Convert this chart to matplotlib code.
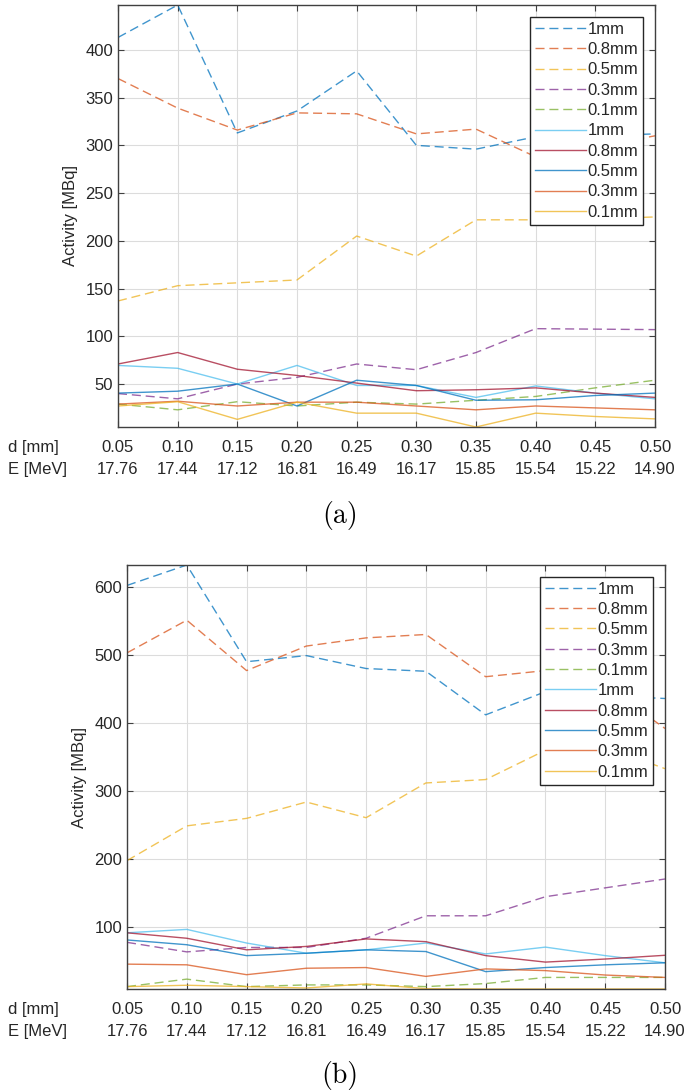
#!/usr/bin/env python3
"""Activity vs. foil thickness / beam energy, panels (a) and (b)."""

import matplotlib
import numpy as np

matplotlib.use("Agg")
import matplotlib.pyplot as plt

plt.rcParams["font.family"] = ["Liberation Sans", "DejaVu Sans"]

DEPTH_MM = [0.05, 0.10, 0.15, 0.20, 0.25, 0.30, 0.35, 0.40, 0.45, 0.50]
ENERGY_MEV = [17.76, 17.44, 17.12, 16.81, 16.49, 16.17, 15.85, 15.54, 15.22, 14.90]
LABELS = ["1mm", "0.8mm", "0.5mm", "0.3mm", "0.1mm"]

# panel (a): dashed series, then solid series (same label order)
A_DASHED = [
    [413, 447, 313, 336, 378, 300, 296, 309, 310, 312],
    [370, 339, 316, 334, 333, 312, 317, 288, 298, 310],
    [137, 153, 156, 159, 205, 184, 222, 222, 223, 225],
    [40, 34.5, 50, 57, 71, 65, 83, 108, 107.5, 107],
    [29, 23, 31.5, 27, 31, 29, 33, 37, 46, 54],
]
A_SOLID = [
    [69.5, 66.5, 50, 69.5, 48.5, 48.5, 36, 48, 40.5, 34.5],
    [71, 83, 65.5, 59, 51, 43, 44, 46, 40.5, 36],
    [40.5, 42.5, 50, 27, 54, 48.5, 33, 33.5, 38, 40.5],
    [29, 32, 27, 31, 31, 27, 23, 27, 25, 23],
    [27, 31.5, 13, 31, 19.5, 19.5, 5, 19.5, 16, 13.5],
]

# panel (b)
B_DASHED = [
    [602, 632, 490, 499, 480, 476, 412, 446, 440, 436],
    [503, 551, 477, 513, 525, 530, 468, 477, 455, 392],
    [198, 249, 260, 284, 261, 312, 317, 360, 365, 333],
    [78, 64, 70.5, 70.5, 84, 117, 117, 145, 158, 171],
    [13, 24, 13, 15.5, 15.5, 13, 17.5, 26.5, 26.5, 26.5],
]
B_SOLID = [
    [92, 97, 77, 62, 67, 77, 61, 71, 58.5, 48],
    [92, 84, 67, 72, 83, 79, 58.5, 49, 53.5, 59],
    [81.5, 74.5, 58.5, 62, 67, 64.5, 35, 41, 45, 48],
    [46, 45, 30.5, 40, 41, 28, 39, 36.5, 30, 26.5],
    [13, 15, 13, 11, 17, 10, 9.5, 9.5, 9.5, 9.5],
]

DASHED_COLORS = ["#0072BD", "#D95319", "#EDB120", "#7E2F8E", "#77AC30"]
SOLID_COLORS = ["#4DBEEE", "#A2142F", "#0072BD", "#D95319", "#EDB120"]

FIG_W, FIG_H = 685, 1092
TEXT_COLOR = "#262626"
FONT_SIZE = 12


def draw_panel(fig, rect_px, dashed, solid, yticks, tag, tag_y):
    left, top, right, bottom = rect_px
    ax = fig.add_axes([
        left / FIG_W,
        1 - bottom / FIG_H,
        (right - left) / FIG_W,
        (bottom - top) / FIG_H,
    ])

    for label, values, color in zip(LABELS, dashed, DASHED_COLORS):
        (line,) = ax.plot(DEPTH_MM, values, color=color, linewidth=1.0,
                          alpha=0.75, label=label)
        line.set_dashes((6.5, 3.5))
    for label, values, color in zip(LABELS, solid, SOLID_COLORS):
        ax.plot(DEPTH_MM, values, color=color, linewidth=1.0, alpha=0.75,
                label=label)

    all_values = np.concatenate([np.ravel(dashed), np.ravel(solid)])
    ax.set_xlim(DEPTH_MM[0], DEPTH_MM[-1])
    ax.set_ylim(all_values.min(), all_values.max())

    ax.set_xticks(DEPTH_MM)
    ax.set_xticklabels([f"{d:.2f}\n{e:.2f}" for d, e in zip(DEPTH_MM, ENERGY_MEV)],
                       linespacing=1.6)
    ax.set_yticks(yticks)
    ax.tick_params(direction="in", top=True, right=True, length=4, width=0.8,
                   colors="#404040", labelcolor=TEXT_COLOR, labelsize=FONT_SIZE)
    ax.tick_params(axis="x", pad=9.5)
    ax.grid(True, color="#dcdcdc", linewidth=0.8)
    ax.set_axisbelow(True)
    for spine in ax.spines.values():
        spine.set_color("#404040")
        spine.set_linewidth(1.0)

    ax.set_ylabel("Activity [MBq]", fontsize=FONT_SIZE, color=TEXT_COLOR)
    ax.yaxis.set_label_coords(-0.074, 0.5)

    leg = ax.legend(loc="upper right", fontsize=FONT_SIZE, frameon=True,
                    fancybox=False, framealpha=1, edgecolor="#262626",
                    handlelength=3.05, handletextpad=0.1, labelspacing=0.32,
                    borderpad=0.3, borderaxespad=0.7)
    leg.get_frame().set_linewidth(1.0)
    for text in leg.get_texts():
        text.set_color(TEXT_COLOR)

    fig.text(8 / FIG_W, 1 - (bottom + 13) / FIG_H, "d [mm]\nE [MeV]",
             ha="left", va="top", fontsize=FONT_SIZE, color=TEXT_COLOR,
             linespacing=1.6)
    fig.text(340 / FIG_W, 1 - tag_y / FIG_H, tag, ha="center", va="center",
             fontsize=20, family="cmr10", color="black")
    return ax


def main():
    fig = plt.figure(figsize=(FIG_W / 100, FIG_H / 100), dpi=100)
    draw_panel(fig, (118, 5, 655, 427), A_DASHED, A_SOLID,
               np.arange(50, 401, 50), "(a)", 516)
    draw_panel(fig, (127, 565, 665, 989), B_DASHED, B_SOLID,
               np.arange(100, 601, 100), "(b)", 1076)
    fig.savefig("out.png", dpi=100)
    plt.close(fig)


if __name__ == "__main__":
    main()
